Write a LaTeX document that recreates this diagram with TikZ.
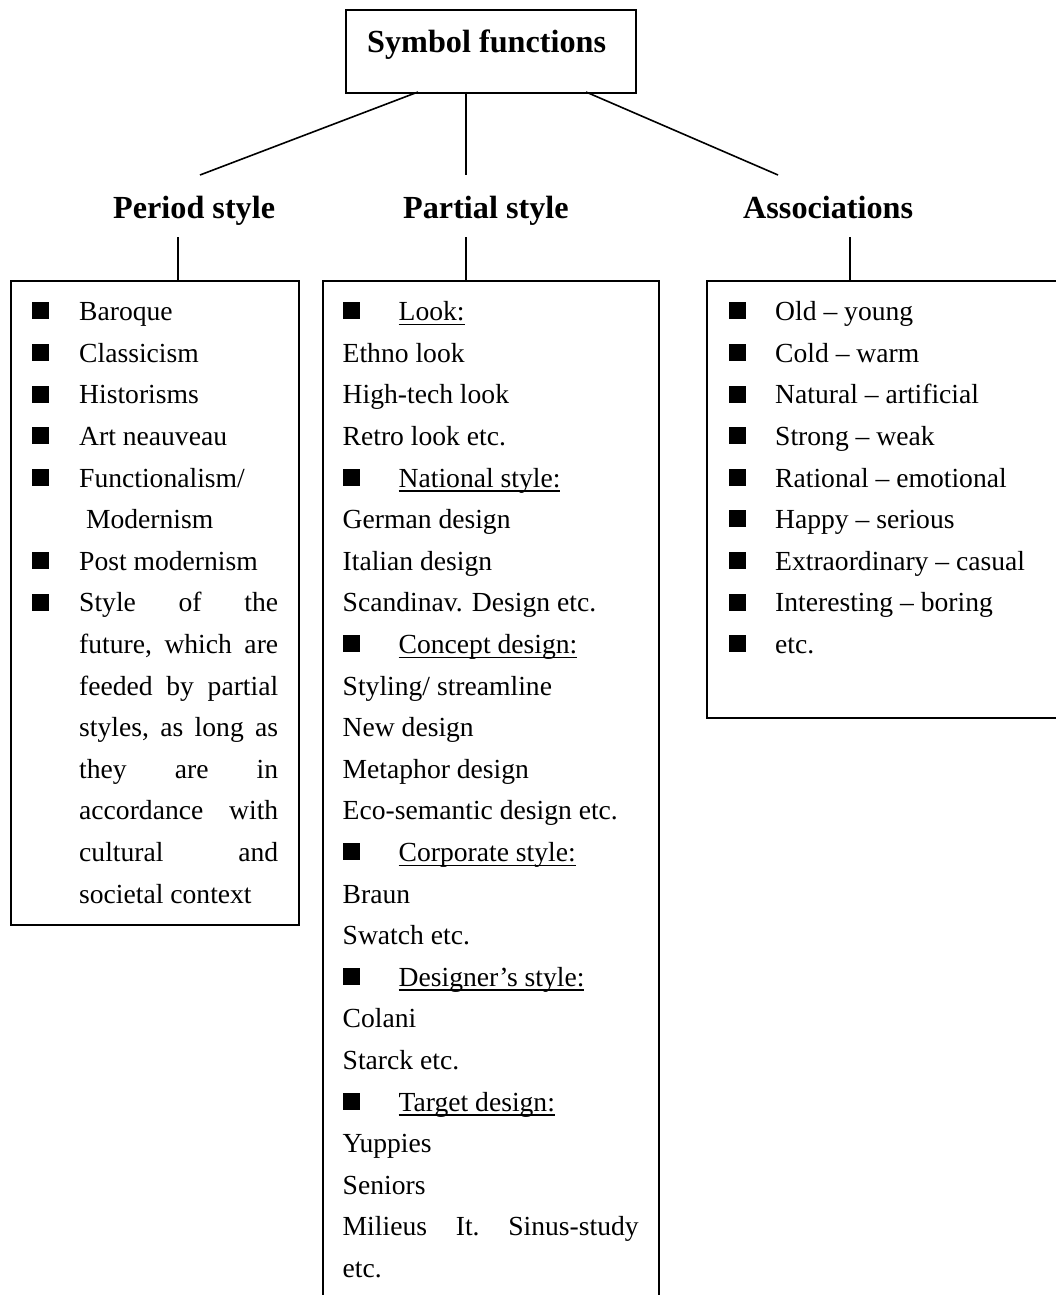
\documentclass[tikz,border=0pt]{standalone}
\usepackage{fontspec}
\setmainfont{Liberation Serif}
\newsavebox\ulinebox
% underline a short label with a rule placed just under the baseline
\newcommand\ulabel[1]{\sbox\ulinebox{#1}\rlap{\rule[-4.6pt]{\wd\ulinebox}{1.5pt}}\usebox\ulinebox}
% solid square list marker
\newcommand\sqmark{\rule[1.4pt]{17pt}{17pt}}
\begin{document}
\begin{tikzpicture}[x=1pt,y=-1pt,
  frame/.style={draw,line width=1.8pt,inner sep=0pt,anchor=north west},
  link/.style={line width=1.6pt},
  title/.style={inner sep=0pt,anchor=base west,font=\fontsize{32.2}{38}\selectfont\bfseries},
  txt/.style={inner sep=0pt,anchor=base west,font=\fontsize{27.6}{41.6}\selectfont}]
\clip (0,0) rectangle (1056,1295);
\useasboundingbox (0,0) rectangle (1056,1295);

% root box
\node[frame,minimum width=290pt,minimum height=83pt] (root) at (345,9) {};
\node[title] (rootlabel) at (367,53) {Symbol functions};

% category headings
\node[title] (h1) at (113,218.3) {Period style};
\node[title] (h2) at (403,218.3) {Partial style};
\node[title] (h3) at (743,218.3) {Associations};

% connectors from the root box to the headings
\coordinate (r1) at (418,92);
\coordinate (r2) at (466,92);
\coordinate (r3) at (586,92);
\coordinate (e1) at (200,175);
\coordinate (e2) at (466,175);
\coordinate (e3) at (778,175);
\draw[link] (r1) -- (e1);
\draw[link] (r2) -- (e2);
\draw[link] (r3) -- (e3);

% content boxes
\node[frame,minimum width=288pt,minimum height=644pt] (b1) at (10,280) {};
\node[frame,minimum width=336pt,minimum height=1040pt] (b2) at (322,280) {};
\node[frame,minimum width=380pt,minimum height=437pt] (b3) at (706,280) {};

% stubs from the headings down to the boxes
\coordinate (s1) at (178,237);
\coordinate (s2) at (466,237);
\coordinate (s3) at (850,237);
\draw[link] (s1) -- (s1 |- b1.north);
\draw[link] (s2) -- (s2 |- b2.north);
\draw[link] (s3) -- (s3 |- b3.north);

% left list
\foreach \t [count=\i] in {
  {\makebox[47pt][l]{\sqmark}Baroque},
  {\makebox[47pt][l]{\sqmark}Classicism},
  {\makebox[47pt][l]{\sqmark}Historisms},
  {\makebox[47pt][l]{\sqmark}Art neauveau},
  {\makebox[47pt][l]{\sqmark}Functionalism/},
  {\makebox[47pt][l]{} Modernism},
  {\makebox[47pt][l]{\sqmark}Post modernism},
  {\makebox[47pt][l]{\sqmark}\makebox[199pt][s]{Style\hfill of\hfill the}},
  {\makebox[47pt][l]{}\makebox[199pt][s]{future,\hfill which\hfill are}},
  {\makebox[47pt][l]{}\makebox[199pt][s]{feeded\hfill by\hfill partial}},
  {\makebox[47pt][l]{}\makebox[199pt][s]{styles,\hfill as\hfill long\hfill as}},
  {\makebox[47pt][l]{}\makebox[199pt][s]{they\hfill are\hfill in}},
  {\makebox[47pt][l]{}\makebox[199pt][s]{accordance\hfill with}},
  {\makebox[47pt][l]{}\makebox[199pt][s]{cultural\hfill and}},
  {\makebox[47pt][l]{}societal context}}
  \node[txt] (p\i) at (32,{320.7+41.6*(\i-1)}) {\t};

% middle list
\foreach \t [count=\i] in {
  {\makebox[56pt][l]{\sqmark}\ulabel{Look:}},
  {Ethno look},
  {High-tech look},
  {Retro look etc.},
  {\makebox[56pt][l]{\sqmark}\ulabel{National style:}},
  {German design},
  {Italian design},
  {Scandinav. Design etc.},
  {\makebox[56pt][l]{\sqmark}\ulabel{Concept design:}},
  {Styling/ streamline},
  {New design},
  {Metaphor design},
  {Eco-semantic design etc.},
  {\makebox[56pt][l]{\sqmark}\ulabel{Corporate style:}},
  {Braun},
  {Swatch etc.},
  {\makebox[56pt][l]{\sqmark}\ulabel{Designer’s style:}},
  {Colani},
  {Starck etc.},
  {\makebox[56pt][l]{\sqmark}\ulabel{Target design:}},
  {Yuppies},
  {Seniors},
  {\makebox[296pt][s]{Milieus\hfill It.\hfill Sinus-study}},
  {etc.}}
  \node[txt] (q\i) at (342.5,{320.7+41.6*(\i-1)}) {\t};

% right list
\foreach \t [count=\i] in {
  {Old – young},
  {Cold – warm},
  {Natural – artificial},
  {Strong – weak},
  {Rational – emotional},
  {Happy – serious},
  {Extraordinary – casual},
  {Interesting – boring},
  {etc.}}
  \node[txt] (a\i) at (729,{320.7+41.6*(\i-1)}) {\makebox[46pt][l]{\sqmark}\t};
\end{tikzpicture}
\end{document}
